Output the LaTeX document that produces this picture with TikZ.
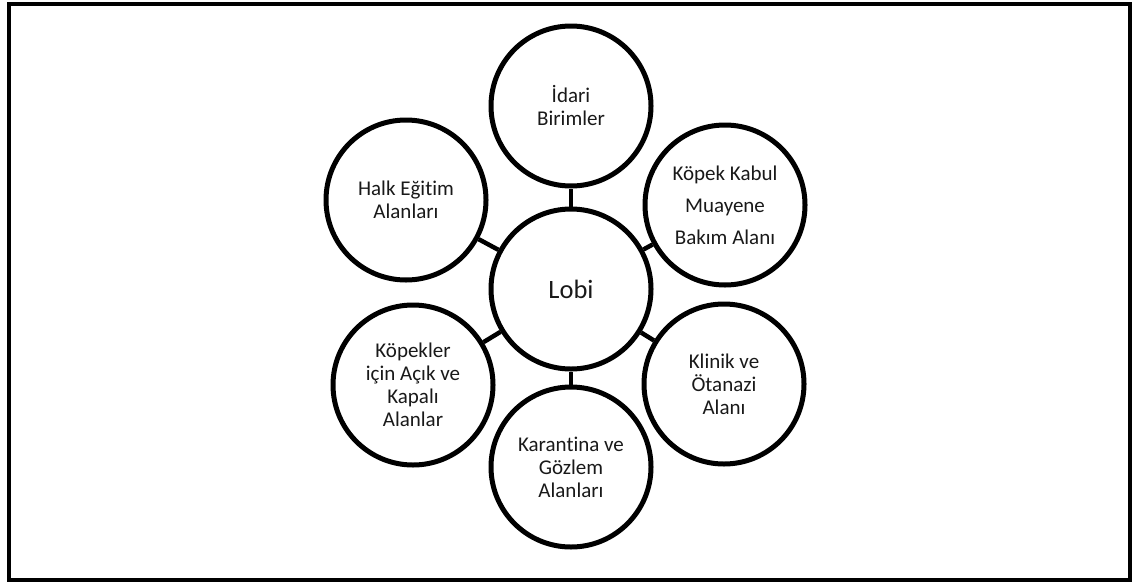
\documentclass[tikz,border=0pt]{standalone}
\usepackage{fontspec}
\setmainfont{Carlito}[Ligatures={NoCommon}]
\begin{document}
\begin{tikzpicture}[x=1pt,y=-1pt,
  bubble/.style={circle,draw=black,line width=5pt,minimum size=160pt,inner sep=0pt,
    align=center,font=\fontsize{21}{23}\selectfont,text=black!90},
  link/.style={draw=black,line width=4.5pt}]
\useasboundingbox (0,0) rectangle (1134,584);
\draw[line width=4pt] (8.5,4) rectangle (1129.5,580);
\node[bubble,font=\fontsize{26.5}{30}\selectfont] (lobi) at (571,289) {Lobi};
\node[bubble] (idari) at (571,106) {İdari\\Birimler};
\node[bubble,font=\fontsize{21}{32}\selectfont] (kabul) at (725,205) {Köpek Kabul\\Muayene\\Bakım Alanı};
\node[bubble] (klinik) at (724,384) {Klinik ve\\Ötanazi\\Alanı};
\node[bubble] (karantina) at (571,467) {Karantina ve\\Gözlem\\Alanları};
\node[bubble] (acik) at (413,385) {Köpekler\\için Açık ve\\Kapalı\\Alanlar};
\node[bubble] (halk) at (406,200) {Halk Eğitim\\Alanları};
\foreach \n in {idari,kabul,klinik,karantina,acik,halk}
  \draw[link] (lobi) -- (\n);
\end{tikzpicture}
\end{document}
